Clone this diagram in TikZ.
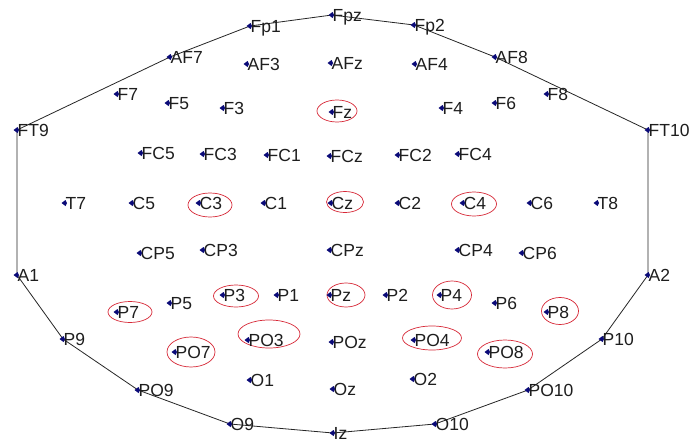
\documentclass[tikz,border=0pt]{standalone}
\usepackage{fontspec}
\setmainfont{Liberation Sans}
\definecolor{mk}{RGB}{10,10,120}
\definecolor{ringc}{RGB}{215,40,55}
\definecolor{txt}{RGB}{30,30,30}
\begin{document}
\begin{tikzpicture}[x=1pt,y=-1pt,
  lbl/.style={anchor=base west, inner sep=0pt, text=txt, font=\fontsize{17.5}{20}\selectfont, yshift=-6pt, xshift=0.5pt},
  rim/.style={draw=black!85, line width=0.8pt},
  ring/.style={draw=ringc, line width=0.7pt},
  dot/.style={fill=mk}]
\fill[white] (0,0) rectangle (691,442);
\useasboundingbox (0,0) rectangle (691,442);
\foreach \n/\x/\y in {Fp1/250/26, Fpz/332/15, Fp2/414/25,
  AF7/170/57, AF3/247/64, AFz/331/63, AF4/415/64, AF8/495/57,
  F7/117/94, F5/168/103, F3/223/108, Fz/332/112, F4/442/108, F6/495/103, F8/547/94,
  FT9/17/130, FT10/648/130,
  FC5/141/153, FC3/203/154, FC1/267/155, FCz/330/156, FC2/398/155, FC4/458/154,
  T7/65/203, C5/132/203, C3/199/203, C1/264/203, Cz/331/203, C2/398/203, C4/463/203, C6/530/203, T8/597/203,
  CP5/140/253, CP3/203/250, CPz/330/250, CP4/458/250, CP6/522/253,
  A1/17/275, A2/648/275,
  P7/117/312, P5/170/303, P3/223/295, P1/277/295, Pz/330/295, P2/386/295, P4/440/295, P6/495/303, P8/547/312,
  P9/63/339, P10/602/339,
  PO7/175/352, PO3/248/340, POz/332/342, PO4/414/340, PO8/488/352,
  PO9/138/390, PO10/528/390,
  O1/250/380, Oz/333/389, O2/413/379,
  O9/230/424, O10/435/424, Iz/333/433}
  {\coordinate (\n) at (\x,\y);}
% head outline
\draw[rim] (FT9) -- (AF7) -- (Fp1) -- (Fpz) -- (Fp2) -- (AF8) -- (FT10) -- (A2)
  -- (P10) -- (PO10) -- (O10) -- (Iz) -- (O9) -- (PO9) -- (P9) -- (A1) -- cycle;
% highlighted electrodes
\foreach \cx/\cy/\w/\h in {337/111/40/22, 210/205/44/24, 345/202/37/21, 474/204/45/24,
  236/296/45/22, 346/295/38/24, 452/295/39/28, 130/312/44/21, 560/311/37/27,
  191/352/48/30, 269/334/62/28, 432/338/59/24, 505/354/55/28}
  {\draw[ring] (\cx,\cy) ellipse [x radius=\w pt/2, y radius=\h pt/2];}
% markers and labels
\foreach \n in {Fp1, Fpz, Fp2, AF7, AF3, AFz, AF4, AF8, F7, F5, F3, Fz, F4, F6, F8,
  FT9, FT10, FC5, FC3, FC1, FCz, FC2, FC4, T7, C5, C3, C1, Cz, C2, C4, C6, T8,
  CP5, CP3, CPz, CP4, CP6, A1, A2, P7, P5, P3, P1, Pz, P2, P4, P6, P8, P9, P10,
  PO7, PO3, POz, PO4, PO8, PO9, PO10, O1, Oz, O2, O9, O10, Iz}
  {\node[lbl] (\n-l) at (\n) {\n};
   \fill[dot] (\n) +(-3.5,0) -- +(0.5,-3) -- +(2,0) -- +(0.5,3) -- cycle;}
\end{tikzpicture}
\end{document}
